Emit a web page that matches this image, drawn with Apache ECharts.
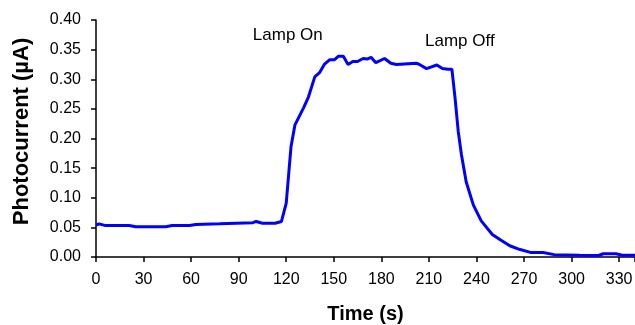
<!DOCTYPE html>
<html>
<head>
<meta charset="utf-8">
<script src="https://cdn.jsdelivr.net/npm/echarts@6/dist/echarts.min.js"></script>
<style>
html,body{margin:0;padding:0;background:#fff;}
#chart{width:635px;height:325px;}
</style>
</head>
<body>
<div id="chart"></div>
<script>
const timeS = [0,2,6,21,25,44,48,59,63,78,99,101,105,113,117,120,123,125.5,131,134,138,141,144,147.5,150.5,153,156,159,162,165,168.5,171,173.5,176.5,182,186,189.5,202,204,208.5,215,218.5,222,224.5,226.5,228.5,230.5,233.5,238,243,250,255,261,267,274,282,289,305,317,320,328,332,340];
const photocurrent = [0.054,0.056,0.053,0.053,0.051,0.051,0.053,0.053,0.055,0.056,0.058,0.060,0.057,0.057,0.060,0.091,0.186,0.223,0.252,0.270,0.304,0.311,0.325,0.333,0.333,0.339,0.339,0.325,0.330,0.330,0.335,0.334,0.337,0.328,0.335,0.327,0.325,0.327,0.325,0.318,0.324,0.318,0.317,0.317,0.268,0.212,0.173,0.127,0.088,0.061,0.038,0.029,0.019,0.013,0.0078,0.0075,0.004,0.003,0.0025,0.0055,0.0055,0.003,0.003];
const annotations = [
  {name:'Lamp On', t:121, v:0.375},
  {name:'Lamp Off', t:229.5, v:0.3635}
];
const xTicks = {min:0, max:340, interval:30};
const yTicks = {min:0, max:0.40, interval:0.05};

const chart = echarts.init(document.getElementById('chart'), null, {renderer:'canvas'});
const FONT = 'Liberation Sans, Arial, sans-serif';
chart.setOption({
  animation:false,
  grid:{left:96, right:0, top:20, bottom:68, containLabel:false, outerBoundsMode:'none'},
  xAxis:{
    type:'value', min:xTicks.min, max:xTicks.max, interval:xTicks.interval,
    name:'Time (s)', nameLocation:'middle', nameGap:47,
    nameTextStyle:{fontFamily:FONT, fontWeight:'bold', fontSize:20, color:'#000'},
    axisLine:{show:true, lineStyle:{color:'#000', width:1.5}},
    axisTick:{show:true, inside:false, length:5, lineStyle:{color:'#000', width:1.5}},
    axisLabel:{fontFamily:FONT, fontSize:16, color:'#000', margin:15,
      formatter:function(v){return v<=330?String(v):'';}},
    splitLine:{show:false}
  },
  yAxis:{
    type:'value', min:yTicks.min, max:yTicks.max, interval:yTicks.interval,
    name:'Photocurrent (\u00b5A)', nameLocation:'middle', nameGap:63,
    nameTextStyle:{fontFamily:FONT, fontWeight:'bold', fontSize:22, color:'#000', padding:[0,0,0,14]},
    axisLine:{show:true, lineStyle:{color:'#000', width:1.5}},
    axisTick:{show:true, inside:false, length:5, lineStyle:{color:'#000', width:1.5}},
    axisLabel:{fontFamily:FONT, fontSize:16, color:'#000', margin:15,
      formatter:function(v){return v.toFixed(2);}},
    splitLine:{show:false}
  },
  series:[{
    type:'line',
    data:timeS.map((t,i)=>[t,photocurrent[i]]),
    showSymbol:false,
    symbol:'none',
    lineStyle:{color:'#0000ff', width:3},
    clip:true,
    markPoint:{
      symbol:'circle', symbolSize:0, silent:true,
      label:{show:true, position:'inside', formatter:'{b}', fontFamily:FONT, fontSize:17, color:'#000'},
      data:annotations.map(a=>({name:a.name, coord:[a.t,a.v]}))
    }
  }]
});
</script>
</body>
</html>
